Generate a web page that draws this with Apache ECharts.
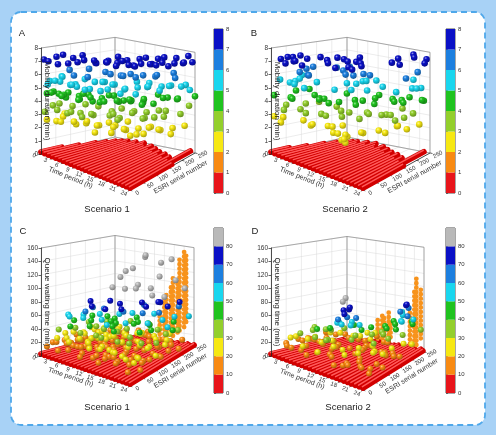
<!DOCTYPE html>
<html>
<head>
<meta charset="utf-8">
<script src="https://cdn.jsdelivr.net/npm/echarts@6/dist/echarts.min.js"></script>
<style>
  html, body { margin: 0; padding: 0; background: #a8d2f6; }
  #main { width: 496px; height: 435px; }
</style>
</head>
<body>
<div id="main"></div>
<script>
// floor axes
const timeTicks = [0, 3, 6, 9, 12, 15, 18, 21, 24];
const esriTicks = [0, 50, 100, 150, 200, 250];

// colour bars
const mobBreaks = [0, 1, 2, 3, 4, 5, 6, 7, 8];
const queueBreaks = [0, 10, 20, 30, 40, 50, 60, 70, 80, 90];
const mobColors = ['#e8141a', '#f88a12', '#f6e812', '#93cf2c', '#1fc31f', '#19d6ee', '#1c7fdf', '#0a10c6'];
const queueColors = ['#e8141a', '#f88a12', '#f6e812', '#93cf2c', '#1fc31f', '#19d6ee', '#1c7fdf', '#0a10c6', '#b9b9b9'];

// red floor (0 min): how far along the ESRI numbers each hourly row reaches, hour 0..24
const floorA = [70, 115, 160, 185, 205, 215, 225, 210, 230, 215, 235, 220, 210, 225, 200, 215, 190, 205, 185, 200, 175, 190, 170, 245, 160];
const floorB = [60, 105, 150, 180, 200, 210, 215, 200, 225, 205, 230, 215, 200, 220, 195, 210, 185, 200, 180, 195, 170, 185, 160, 240, 150];
const floorC = [190, 215, 230, 240, 245, 240, 250, 245, 240, 250, 245, 250, 240, 245, 250, 245, 240, 250, 245, 250, 240, 245, 250, 245, 250];
const floorD = [170, 195, 215, 225, 235, 240, 230, 245, 240, 245, 250, 235, 245, 250, 240, 245, 250, 240, 245, 250, 245, 250, 240, 250, 245];

// spheres: [hour, ESRI serial number, minutes]
const pointsA = [
  // 7-8
  [0,10,7.1],[1,40,7.3],[2,0,7.2],[2,50,7.5],[3,20,7.0],[4,60,7.4],[5,30,7.2],[5,80,7.6],[6,50,7.3],[7,100,7.1],
  [7,60,7.5],[8,90,7.2],[9,70,7.6],[9,120,7.3],[10,100,7.4],[10,140,7.1],[11,90,7.5],[11,130,7.7],[12,110,7.2],[12,150,7.4],
  [13,120,7.6],[13,160,7.0],[14,130,7.3],[14,170,7.5],[15,140,7.2],[15,180,7.6],[16,150,7.4],[16,190,7.1],[17,170,7.3],[17,200,7.5],
  [18,180,7.2],[18,210,7.6],[19,190,7.4],[20,200,7.1],[20,230,7.5],[21,210,7.3],[22,230,7.2],[22,250,7.6],[23,220,7.4],[24,240,7.3],
  // 6-7
  [3,60,6.4],[5,50,6.2],[6,90,6.6],[8,60,6.3],[9,110,6.5],[11,140,6.2],[12,90,6.7],[13,150,6.4],[14,110,6.6],[15,170,6.3],
  [16,130,6.5],[17,190,6.2],[19,170,6.6],[20,220,6.4],[22,200,6.3],
  // 5-6
  [0,30,5.4],[0,70,5.6],[1,10,5.3],[1,60,5.7],[2,40,5.5],[3,80,5.2],[3,10,5.8],[4,50,5.4],[4,100,5.6],[5,60,5.3],
  [6,30,5.7],[6,110,5.5],[7,80,5.2],[8,120,5.6],[8,50,5.4],[9,100,5.8],[10,80,5.3],[10,130,5.5],[11,110,5.7],[12,140,5.2],
  [12,80,5.6],[13,130,5.4],[14,160,5.8],[14,100,5.3],[15,150,5.5],[16,180,5.7],[16,130,5.2],[17,160,5.6],[18,200,5.4],[18,150,5.8],
  [19,180,5.3],[20,210,5.5],[21,190,5.7],[22,240,5.4],[23,210,5.6],[24,230,5.2],
  // 4-5
  [0,20,4.5],[0,60,4.3],[1,30,4.7],[1,80,4.4],[2,10,4.8],[2,60,4.2],[3,40,4.6],[4,80,4.4],[4,20,4.7],[5,70,4.3],
  [5,100,4.5],[6,70,4.8],[7,90,4.2],[7,40,4.6],[8,110,4.4],[8,70,4.7],[9,90,4.3],[9,140,4.5],[10,110,4.8],[11,150,4.2],
  [11,80,4.6],[12,120,4.4],[13,100,4.7],[13,150,4.3],[14,140,4.5],[15,120,4.8],[15,170,4.2],[16,160,4.6],[17,140,4.4],[17,200,4.7],
  [18,170,4.3],[19,210,4.5],[20,180,4.8],[21,220,4.4],[22,210,4.6],[24,250,4.5],
  // 3-4
  [0,40,3.5],[1,0,3.3],[1,50,3.7],[2,30,3.4],[3,70,3.6],[4,40,3.3],[5,90,3.8],[5,40,3.5],[6,60,3.4],[7,110,3.7],
  [8,80,3.3],[9,60,3.6],[10,120,3.5],[11,100,3.4],[12,130,3.8],[13,110,3.3],[14,150,3.6],[14,90,3.4],[15,130,3.7],[16,170,3.5],
  [17,150,3.3],[18,190,3.6],[19,160,3.4],[20,190,3.7],[21,170,3.5],[22,220,3.3],[23,240,3.8],[12,100,3.6],[8,40,3.4],[18,130,3.5],
  // 2-3
  [0,20,2.5],[0,80,2.7],[1,40,2.4],[2,50,2.8],[3,30,2.6],[4,70,2.3],[5,50,2.7],[6,80,2.5],[7,70,2.8],[8,100,2.4],
  [9,80,2.6],[10,60,2.3],[10,110,2.7],[11,120,2.5],[12,100,2.6],[13,140,2.8],[14,120,2.4],[15,100,2.7],[16,140,2.5],[17,120,2.3],
  [18,160,2.6],[19,140,2.8],[20,170,2.4],[21,150,2.7],[22,190,2.5],[23,170,2.3],[24,210,2.6],[13,80,2.4],[16,110,2.2],[19,120,2.5]
];

const pointsB = [
  // 7-8
  [1,20,7.2],[2,30,7.4],[3,10,7.1],[2,50,7.0],[4,30,7.3],[3,60,7.5],[1,60,7.2],[5,40,7.0],[4,70,7.3],
  [8,90,7.2],[10,90,7.0],[11,120,7.4],[12,110,7.1],[13,140,7.3],[9,110,7.6],[7,100,7.3],[12,150,7.6],[11,150,7.2],[14,130,7.2],
  [6,90,7.5],[10,120,7.5],[13,110,7.0],[18,210,7.5],[20,190,7.3],[21,230,7.6],[23,250,7.4],[17,200,7.2],[20,240,7.7],[24,230,7.3],
  // 6-7
  [3,80,6.4],[5,60,6.2],[4,90,6.6],[6,50,6.3],[9,130,6.5],[11,140,6.2],[13,150,6.4],[12,100,6.6],[14,160,6.3],[22,230,6.5],
  [21,200,6.2],[8,120,6.7],[10,140,6.8],[2,70,6.1],
  // 5-6
  [0,30,5.5],[1,50,5.3],[2,70,5.6],[0,80,5.2],[3,40,5.4],[1,90,5.7],[4,60,5.1],[5,90,5.5],[10,130,5.6],[12,120,5.3],
  [13,160,5.8],[11,150,5.5],[14,150,5.2],[12,160,5.7],[15,170,5.9],[16,180,5.4],[9,100,5.2],[22,210,5.4],[24,200,5.6],[23,230,5.3],
  [20,240,5.7],[19,190,5.1],
  // 4-5
  [0,10,4.4],[1,70,4.6],[2,40,4.3],[3,90,4.8],[4,20,4.5],[5,100,4.2],[6,70,4.7],[7,90,4.4],[8,60,4.6],[9,80,4.3],
  [10,130,4.8],[11,90,4.5],[12,160,4.2],[13,120,4.6],[14,110,4.4],[15,180,4.7],[16,150,4.3],[17,140,4.9],[18,190,4.5],[19,210,4.3],
  [20,170,4.6],[21,190,4.4],[22,200,4.8],[23,240,4.2],[24,220,4.5],
  // 3-4
  [0,50,3.5],[1,30,3.3],[2,90,3.6],[3,60,3.4],[4,110,3.8],[6,40,3.5],[7,80,3.3],[8,120,3.7],[9,70,3.4],[10,110,3.6],
  [11,100,3.3],[13,100,3.8],[14,150,3.5],[15,110,3.4],[16,130,3.7],[17,180,3.3],[18,150,3.6],[19,170,3.5],[20,200,3.8],[22,180,3.4],
  [23,200,3.6],[21,160,3.3],
  // 2-3
  [0,40,2.6],[1,20,2.4],[0,10,2.8],[3,70,2.5],[5,70,2.3],[7,50,2.7],[8,90,2.4],[10,80,2.6],[11,70,2.3],[12,90,2.8],
  [13,60,2.5],[14,80,2.2],[15,60,2.6],[16,110,2.4],[17,90,2.7],[18,140,2.5],[19,150,2.3],[20,180,2.6],[21,170,2.8],[22,190,2.4],
  [24,210,2.7],[15,60,2.0],[15,55,2.3],[14,60,2.1]
];

const pointsC = [
  // > 80
  [6,200,105],[8,220,118],[10,240,135],[11,230,140],[14,250,128],[12,190,100],[16,220,112],[18,240,138],[20,230,108],[7,160,95],
  [9,180,92],[13,170,98],[15,200,96],[17,180,90],[5,230,110],[19,200,86],[22,240,95],
  // 70-80
  [4,120,75],[6,100,72],[8,140,78],[10,150,74],[12,130,71],[14,180,76],[16,170,73],[18,190,79],[20,200,72],[22,220,77],
  [9,110,70],[17,210,74],
  // 60-70
  [5,90,64],[7,130,66],[11,150,63],[13,200,68],[15,170,62],[19,180,65],[21,230,67],[3,140,62],
  // 50-60
  [1,80,55],[2,120,52],[3,60,57],[5,140,54],[6,70,58],[8,110,53],[9,160,56],[11,90,52],[12,170,59],[14,120,54],
  [16,200,57],[18,150,53],[20,180,55],[22,200,58],[24,230,54],[23,160,51],
  // 40-50
  [1,100,44],[2,150,47],[3,190,42],[4,50,45],[5,110,48],[6,180,43],[7,80,46],[8,160,41],[9,130,49],[10,210,44],
  [11,110,47],[12,190,42],[13,90,45],[14,150,48],[15,190,43],[17,170,46],[19,150,44],[21,210,47],[23,180,42],[18,120,45],
  // 30-40
  [0,60,33],[1,150,36],[2,200,32],[3,80,38],[4,140,34],[5,190,31],[6,60,37],[7,130,35],[8,90,32],[9,200,39],
  [10,140,33],[11,70,36],[12,150,38],[13,220,34],[14,90,31],[16,110,37],[17,200,33],[18,80,36],[20,100,35],[22,130,32],
  [23,200,38],[21,180,34],
  // 20-30
  [0,110,24],[1,170,22],[2,30,27],[2,120,25],[3,160,21],[4,100,28],[4,220,23],[5,70,26],[6,150,22],[6,20,29],
  [7,110,24],[8,60,27],[8,190,21],[9,140,25],[10,40,23],[10,100,28],[11,200,22],[12,60,26],[13,120,24],[14,180,29],
  [15,60,22],[16,140,25],[17,90,27],[18,180,23],[19,40,26],[20,130,24],[21,70,21],[22,170,28],[23,30,25],[24,100,22],
  [15,230,26],[19,220,24],[0,170,25],[1,70,28],[2,190,23],[3,50,26],[4,160,24],[5,110,21],[7,180,27],[8,140,23],
  [9,50,28],[11,160,25],[12,200,21],[13,40,27],[14,60,24],[16,200,22],[17,40,28],[18,120,26],[20,40,23],[21,110,27],
  [22,60,24],[23,150,26],
  // 10-20
  [0,20,12],[0,80,15],[0,150,11],[1,40,18],[1,120,13],[1,200,16],[2,70,14],[2,170,19],[3,20,11],[3,100,17],
  [3,230,13],[4,60,15],[4,180,12],[5,130,18],[5,30,14],[6,90,11],[6,220,16],[7,50,19],[7,160,13],[8,120,15],
  [8,240,17],[9,20,12],[9,80,18],[10,190,14],[11,130,16],[11,40,11],[12,100,19],[12,230,13],[13,60,15],[13,170,17],
  [14,20,12],[15,110,14],[16,50,18],[17,150,11],[18,30,16],[19,100,13],[20,60,19],[21,130,15],[22,20,12],[23,90,17],
  [24,40,14],[24,150,18],[16,220,13],[20,210,16],[10,250,15],
  [0,40,16],[0,120,19],[0,200,14],[1,90,11],[1,230,18],[2,100,16],[2,220,12],[3,50,18],[3,140,15],[3,200,19],
  [4,120,17],[4,240,14],[5,90,12],[5,180,16],[6,50,18],[6,130,14],[7,80,16],[7,200,12],[8,40,13],[8,160,18],
  [9,110,15],[9,240,13],[10,70,17],[10,160,12],[11,90,19],[11,230,14],[12,40,16],[12,160,13],[13,90,18],[13,220,15],
  [14,60,14],[14,120,17],[15,160,13],[15,30,18],[16,90,15],[16,180,17],[17,50,13],[17,120,19],[18,100,14],[18,210,17],
  [19,60,16],[19,180,12],[20,90,14],[20,160,18],[21,40,17],[21,200,13],[22,80,16],[22,230,15],[23,130,13],[23,60,19],
  [24,120,16],[24,190,12]
];

const pointsD = [
  // > 80
  [10,130,88],[10,120,84],
  // 70-80
  [11,110,74],[12,120,78],[11,130,72],[12,100,71],[21,220,76],[20,230,72],
  // 60-70
  [12,110,65],[13,130,62],[20,240,66],[19,220,63],[22,210,61],[11,90,63],
  // 50-60
  [10,100,55],[11,140,52],[12,90,57],[13,110,54],[9,120,51],[14,130,53],[19,230,56],[21,200,54],[18,240,58],[20,210,52],
  [23,220,55],
  // 40-50
  [8,100,44],[15,160,46],[16,200,42],[17,220,47],[18,180,44],[19,200,48],[20,190,43],[22,230,45],[13,150,41],[10,160,43],
  [6,80,42],[21,240,46],
  // 30-40
  [3,60,33],[4,90,36],[5,140,32],[6,110,38],[7,60,34],[8,150,37],[9,80,31],[10,60,35],[12,140,33],[14,100,36],
  [15,200,32],[16,150,38],[17,180,34],[18,130,31],[20,160,35],[22,190,37],[23,250,33],[2,120,34],
  // 20-30
  [1,70,24],[2,40,27],[3,110,22],[4,150,25],[5,60,28],[6,30,23],[6,160,26],[7,120,21],[8,70,27],[9,170,24],
  [10,30,22],[11,170,26],[12,60,29],[13,80,23],[14,170,25],[15,60,22],[16,100,27],[17,140,24],[18,70,28],[19,120,23],
  [20,100,26],[21,160,22],[22,110,25],[23,180,27],[24,200,23],[13,200,28],[9,220,21],
  // 10-20
  [0,50,14],[0,130,12],[1,110,17],[2,160,13],[2,80,18],[3,30,15],[4,50,11],[4,200,16],[5,100,19],[6,190,14],
  [7,30,12],[7,200,17],[8,130,15],[9,40,18],[10,200,13],[11,60,16],[12,180,11],[13,40,19],[14,140,14],[15,100,17],
  [16,40,12],[17,90,15],[18,30,18],[19,160,13],[20,50,16],[21,100,11],[22,60,14],[23,140,17],[24,80,15],[14,220,12],
  [11,230,16],[0,90,16],[1,40,13],[1,170,19],[2,120,15],[3,80,12],[3,180,17],[5,150,13],[6,100,17],[8,200,13],
  [9,110,16],[10,80,19],[12,120,17],[13,160,12],[15,160,18],[16,210,15],[17,40,17],[18,160,13],[19,60,19],[20,150,12],
  [22,150,18],[23,40,13],[24,150,16],[21,40,18],[15,20,14]
];

// orange stacks against the back wall: [hour, ESRI serial number, from min, to min]
const columnsC = [[14,245,15,55],[15,250,15,72],[16,245,15,80],[17,250,20,96],[18,245,15,112],[19,250,20,100],[20,245,25,140],[21,250,30,155],[22,245,40,148]];
const columnsD = [[10,245,10,40],[11,250,10,50],[12,245,15,45],[13,250,10,55],[14,245,15,38],[20,245,10,60],[21,250,15,90],[22,245,10,115],[23,250,20,100]];

const FONT = 'Liberation Sans, Arial, Helvetica, sans-serif';

const panels = [
  { tag: 'A', caption: 'Scenario 1', yName: 'Mobility duration (min)', vmax: 8, vStep: 1, breaks: mobBreaks, colors: mobColors,
    floor: floorA, points: pointsA, columns: null,
    L: [41, 154], top: 48, F: [89, 36], R: [154, -1], B: [74, -17], k: [1.04, 0.95, 0.94],
    bar: [214, 29, 9, 164], tagAt: [22, 33], capAt: [107, 209], r: 3.3 },
  { tag: 'B', caption: 'Scenario 2', yName: 'Mobility duration (min)', vmax: 8, vStep: 1, breaks: mobBreaks, colors: mobColors,
    floor: floorB, points: pointsB, columns: null,
    L: [271, 154], top: 48, F: [92, 36], R: [159, -1], B: [76, -17], k: [1.04, 0.95, 0.94],
    bar: [446, 29, 9, 164], tagAt: [254, 33], capAt: [345, 209], r: 3.3 },
  { tag: 'C', caption: 'Scenario 1', yName: 'Queue waiting time (min)', vmax: 160, vStep: 20, breaks: queueBreaks, colors: queueColors,
    floor: floorC, points: pointsC, columns: columnsC,
    L: [41, 356], top: 248, F: [89, 30], R: [153, -9], B: [74, -19], k: [1.04, 0.92, 0.94],
    bar: [214, 228, 9, 165], tagAt: [23, 231], capAt: [107, 407], r: 3.0 },
  { tag: 'D', caption: 'Scenario 2', yName: 'Queue waiting time (min)', vmax: 160, vStep: 20, breaks: queueBreaks, colors: queueColors,
    floor: floorD, points: pointsD, columns: columnsD,
    L: [271, 356], top: 248, F: [92, 34], R: [153, -4], B: [76, -18], k: [1.04, 0.97, 0.94],
    bar: [446, 228, 9, 165], tagAt: [255, 231], capAt: [348, 407], r: 3.0 }
];

const T_MAX = timeTicks[timeTicks.length - 1];
const E_MAX = esriTicks[esriTicks.length - 1];

function shade(hex, to, k) {
  const n = parseInt(hex.slice(1), 16);
  const c = [(n >> 16) & 255, (n >> 8) & 255, n & 255];
  return 'rgb(' + c.map(x => Math.round(x + (to - x) * k)).join(',') + ')';
}
const ballCache = {};
function ball(c) {
  if (!ballCache[c]) {
    ballCache[c] = new echarts.graphic.RadialGradient(0.36, 0.32, 0.75, [
      { offset: 0, color: shade(c, 255, 0.55) },
      { offset: 0.3, color: c },
      { offset: 1, color: shade(c, 0, 0.35) }
    ]);
  }
  return ballCache[c];
}

// oblique view of the box: floor corner L sits on the value axis, the rest are offsets in px
function proj(g, api, u, w, z) {
  const o = api.coord([0, 0]);
  const hL = o[1] - api.coord([0, g.vmax])[1];
  const a = (1 - u) * (1 - w), b = u * (1 - w), c = u * w, d = (1 - u) * w;
  const x = o[0] + b * g.F[0] + c * g.R[0] + d * g.B[0];
  const y = o[1] + b * g.F[1] + c * g.R[1] + d * g.B[1];
  const h = hL * (a + b * g.k[0] + c * g.k[1] + d * g.k[2]);
  return [x, y - z * h];
}

function frameItem(g) {
  return function (params, api) {
    const P = (u, w, z) => proj(g, api, u, w, z);
    const kids = [];
    const ln = (p, q, color, width) => kids.push({
      type: 'line', shape: { x1: p[0], y1: p[1], x2: q[0], y2: q[1] },
      style: { stroke: color, lineWidth: width }
    });
    const txt = (p, s, rot, size) => kids.push({
      type: 'text', x: p[0], y: p[1], rotation: rot,
      style: { text: s, fontSize: size, fill: '#333', align: 'center', verticalAlign: 'middle', fontFamily: FONT }
    });
    const gl = '#d9d9d9';
    const vTicks = [];
    for (let v = 0; v <= g.vmax; v += g.vStep) vTicks.push(v);

    timeTicks.forEach(t => {
      const u = t / T_MAX;
      ln(P(u, 0, 0), P(u, 1, 0), gl, 0.5);
      ln(P(u, 1, 0), P(u, 1, 1), gl, 0.5);
    });
    esriTicks.forEach(e => {
      const w = e / E_MAX;
      ln(P(0, w, 0), P(1, w, 0), gl, 0.5);
      ln(P(0, w, 0), P(0, w, 1), gl, 0.5);
    });
    vTicks.forEach(v => {
      const z = v / g.vmax;
      ln(P(0, 0, z), P(0, 1, z), gl, 0.5);
      ln(P(0, 1, z), P(1, 1, z), gl, 0.5);
    });

    const edge = '#8a8a8a';
    ln(P(0, 1, 0), P(0, 1, 1), edge, 0.7);
    ln(P(1, 1, 0), P(1, 1, 1), edge, 0.7);
    ln(P(0, 0, 1), P(0, 1, 1), edge, 0.7);
    ln(P(0, 1, 1), P(1, 1, 1), edge, 0.7);
    ln(P(0, 0, 0), P(0, 1, 0), edge, 0.7);
    ln(P(0, 1, 0), P(1, 1, 0), edge, 0.7);
    ln(P(0, 0, 0), P(1, 0, 0), '#222', 0.8);
    ln(P(1, 0, 0), P(1, 1, 0), '#222', 0.8);

    const unit = (p, q) => { const dx = p[0] - q[0], dy = p[1] - q[1], l = Math.hypot(dx, dy); return [dx / l, dy / l]; };
    const off = (p, n, s) => [p[0] + n[0] * s, p[1] + n[1] * s];

    // time axis along the front-left edge
    const dT = unit(P(1, 0, 0), P(0, 0, 0));
    const rotT = -Math.atan2(dT[1], dT[0]);
    timeTicks.forEach(t => {
      const u = t / T_MAX, p = P(u, 0, 0), n = unit(p, P(u, 1, 0));
      ln(p, off(p, n, 2.5), '#222', 0.7);
      txt(off(p, n, 7), String(t), rotT, 6);
    });
    const mT = P(0.5, 0, 0), nT = unit(mT, P(0.5, 1, 0));
    txt(off(mT, nT, 16), 'Time period (h)', rotT, 7);

    // ESRI axis along the front-right edge
    const dE = unit(P(1, 1, 0), P(1, 0, 0));
    const rotE = -Math.atan2(dE[1], dE[0]);
    esriTicks.forEach(e => {
      const w = e / E_MAX, p = P(1, w, 0), n = unit(p, P(0, w, 0));
      ln(p, off(p, n, 2.5), '#222', 0.7);
      txt(off(p, n, 8), String(e), rotE, 6);
    });
    const mE = P(1, 0.5, 0), nE = unit(mE, P(0, 0.5, 0));
    txt(off(mE, nE, 19), 'ESRI serial number', rotE, 7);

    return { type: 'group', children: kids };
  };
}

function floorItem(g) {
  return function (params, api) {
    const u = api.value(0) / T_MAX, w = api.value(1) / E_MAX;
    const p = proj(g, api, u, 0, 0), q = proj(g, api, u, w, 0);
    p[1] -= 2; q[1] -= 2;
    return {
      type: 'group', children: [
        { type: 'line', shape: { x1: p[0], y1: p[1], x2: q[0], y2: q[1] },
          style: { stroke: '#d20000', lineWidth: 5.8, lineCap: 'round' } },
        { type: 'line', shape: { x1: p[0] - 0.6, y1: p[1] - 1.4, x2: q[0] - 0.6, y2: q[1] - 1.4 },
          style: { stroke: '#ff5a5a', lineWidth: 1.5, lineCap: 'round' } }
      ]
    };
  };
}

function columnItem(g) {
  return function (params, api) {
    const u = api.value(0) / T_MAX, w = api.value(1) / E_MAX;
    const p = proj(g, api, u, w, api.value(2) / g.vmax), q = proj(g, api, u, w, api.value(3) / g.vmax);
    return {
      type: 'line', shape: { x1: p[0], y1: p[1], x2: q[0], y2: q[1] },
      style: { stroke: '#f7931c', lineWidth: 4.8, lineCap: 'round', lineDash: [0.01, 4.4] }
    };
  };
}

function pointItem(g) {
  return function (params, api) {
    const p = proj(g, api, api.value(0) / T_MAX, api.value(1) / E_MAX, api.value(2) / g.vmax);
    return { type: 'circle', shape: { cx: p[0], cy: p[1], r: g.r }, style: { fill: ball(api.visual('color')) } };
  };
}

function barItem(colors) {
  return function (params, api) {
    const a = api.coord([0, api.value(1)]), b = api.coord([1, api.value(0)]);
    return { type: 'rect', shape: { x: a[0], y: a[1], width: b[0] - a[0], height: b[1] - a[1] }, style: { fill: colors[api.value(2)] } };
  };
}

function piecesFrom(breaks, colors) {
  return colors.map((c, i) => {
    const p = { gte: breaks[i], color: c };
    if (i < colors.length - 1) p.lt = breaks[i + 1];
    return p;
  });
}

// farther spheres first
function depthSort(list) {
  return list.slice().sort((a, b) => (a[0] / T_MAX - a[1] / E_MAX) - (b[0] / T_MAX - b[1] / E_MAX) || a[2] - b[2]);
}

const grid = [], xAxis = [], yAxis = [], series = [], graphic = [];
const mobSeries = [], queueSeries = [];

graphic.push({
  type: 'rect', z: -10, silent: true,
  shape: { x: 11, y: 12, width: 474, height: 413, r: 10 },
  style: { fill: '#ffffff', stroke: '#4fa8ea', lineWidth: 1.8, lineDash: [6, 4] }
});

panels.forEach((g) => {
  const gi = grid.length;
  grid.push({ left: g.L[0], top: g.top, width: 20, height: g.L[1] - g.top });
  xAxis.push({ gridIndex: gi, type: 'value', min: 0, max: 1, show: false });
  yAxis.push({
    gridIndex: gi, type: 'value', min: 0, max: g.vmax, interval: g.vStep, z: 6,
    axisLine: { show: true, lineStyle: { color: '#222', width: 0.8 } },
    axisTick: { show: true, length: 2.5, lineStyle: { color: '#222', width: 0.7 } },
    axisLabel: { fontSize: 6.5, margin: 3, color: '#333', fontFamily: FONT },
    splitLine: { show: false },
    name: g.yName, nameLocation: 'middle', nameRotate: -90, nameGap: -10, nameMoveOverlap: false,
    nameTextStyle: { fontSize: 8, color: '#222', fontFamily: FONT }
  });
  series.push({ type: 'custom', xAxisIndex: gi, yAxisIndex: gi, z: 1, silent: true, clip: false,
    data: [[0, 0]], renderItem: frameItem(g) });
  series.push({ type: 'custom', xAxisIndex: gi, yAxisIndex: gi, z: 2, silent: true, clip: false,
    data: g.floor.map((len, t) => [t, len]), renderItem: floorItem(g) });
  if (g.columns) {
    series.push({ type: 'custom', xAxisIndex: gi, yAxisIndex: gi, z: 3, silent: true, clip: false,
      data: g.columns, renderItem: columnItem(g) });
  }
  (g.vmax === 8 ? mobSeries : queueSeries).push(series.length);
  series.push({ type: 'custom', xAxisIndex: gi, yAxisIndex: gi, z: 4, silent: true, clip: false,
    encode: { x: 0, y: 2 }, data: depthSort(g.points), renderItem: pointItem(g) });

  // colour bar
  const bi = grid.length;
  const top = g.breaks[g.breaks.length - 1];
  grid.push({ left: g.bar[0], top: g.bar[1], width: g.bar[2], height: g.bar[3], show: true, borderColor: '#222', borderWidth: 0.8 });
  xAxis.push({ gridIndex: bi, type: 'value', min: 0, max: 1, show: false });
  yAxis.push({
    gridIndex: bi, type: 'value', position: 'right', min: 0, max: top, interval: g.breaks[1] - g.breaks[0],
    axisLine: { show: false }, splitLine: { show: false },
    axisTick: { show: true, length: 2, lineStyle: { color: '#333', width: 0.6 } },
    axisLabel: { fontSize: 6, margin: 3, color: '#333', fontFamily: FONT,
      formatter: v => (v === top && g.vmax !== 8) ? '' : String(v) }
  });
  series.push({ type: 'custom', xAxisIndex: bi, yAxisIndex: bi, z: 3, silent: true,
    data: g.colors.map((c, j) => [g.breaks[j], g.breaks[j + 1], j]), renderItem: barItem(g.colors) });

  graphic.push({ type: 'text', x: g.tagAt[0], y: g.tagAt[1], silent: true,
    style: { text: g.tag, fontSize: 9.5, fill: '#222', align: 'center', verticalAlign: 'middle', fontFamily: FONT } });
  graphic.push({ type: 'text', x: g.capAt[0], y: g.capAt[1], silent: true,
    style: { text: g.caption, fontSize: 9.5, fill: '#222', align: 'center', verticalAlign: 'middle', fontFamily: FONT } });
});

const chart = echarts.init(document.getElementById('main'));
chart.setOption({
  backgroundColor: '#a8d2f6',
  animation: false,
  grid, xAxis, yAxis, series, graphic,
  visualMap: [
    { type: 'piecewise', show: false, seriesIndex: mobSeries, dimension: 2, pieces: piecesFrom(mobBreaks, mobColors) },
    { type: 'piecewise', show: false, seriesIndex: queueSeries, dimension: 2, pieces: piecesFrom(queueBreaks, queueColors) }
  ]
});
window.addEventListener('resize', () => chart.resize());
</script>
</body>
</html>
